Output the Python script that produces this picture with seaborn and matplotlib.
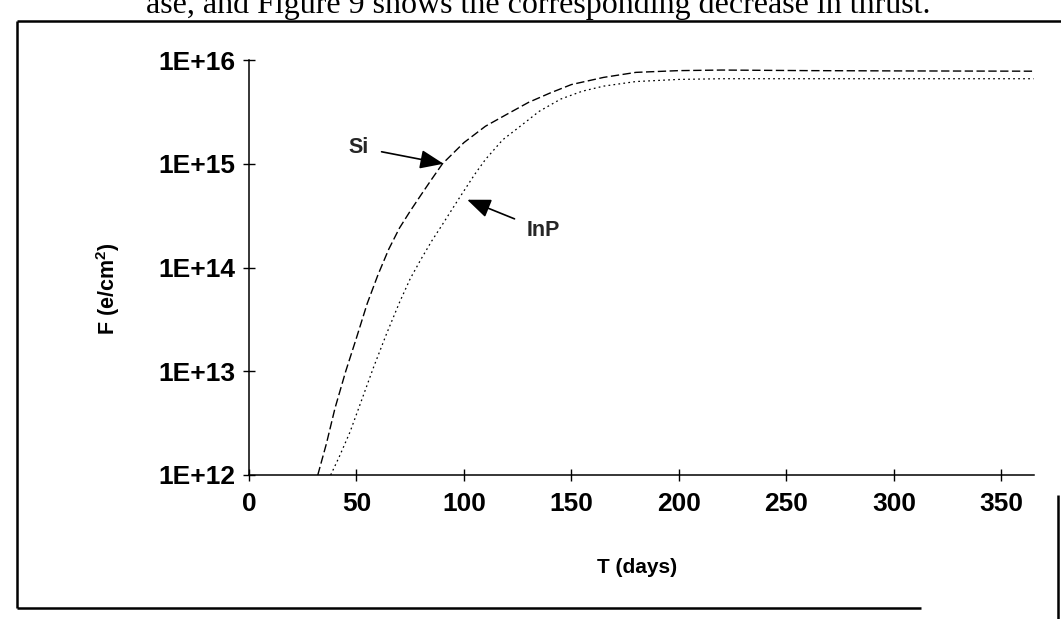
import matplotlib
matplotlib.use("Agg")
import matplotlib.pyplot as plt
from matplotlib.lines import Line2D
from matplotlib.ticker import NullLocator
import seaborn as sns

# Fluence F (e/cm^2) versus time T (days) for the two cell materials
si_days = [32, 36, 40, 45, 50, 55, 60, 65, 70, 75, 80, 85, 90, 100, 110,
           120, 130, 140, 150, 165, 180, 200, 220, 260, 300, 365]
si_flux = [1.0e12, 2.0e12, 4.4e12, 1.0e13, 2.1e13, 4.5e13, 8.5e13, 1.5e14,
           2.4e14, 3.5e14, 5.0e14, 7.1e14, 1.0e15, 1.6e15, 2.3e15, 3.0e15,
           3.9e15, 4.8e15, 5.8e15, 6.8e15, 7.6e15, 7.9e15, 8.0e15, 7.9e15,
           7.85e15, 7.8e15]

inp_days = [38, 42, 47, 52, 58, 64, 70, 75, 80, 85, 90, 97, 105, 110, 118,
            125, 135, 145, 155, 165, 180, 200, 220, 260, 300, 365]
inp_flux = [1.0e12, 1.5e12, 2.6e12, 5.0e12, 1.1e13, 2.3e13, 4.6e13, 7.8e13,
            1.2e14, 1.8e14, 2.6e14, 4.4e14, 7.9e14, 1.1e15, 1.7e15, 2.2e15,
            3.2e15, 4.2e15, 5.0e15, 5.6e15, 6.2e15, 6.5e15, 6.6e15, 6.6e15,
            6.6e15, 6.6e15]

x_ticks = [0, 50, 100, 150, 200, 250, 300, 350]
y_ticks = [1e12, 1e13, 1e14, 1e15, 1e16]
y_tick_labels = ["1E+12", "1E+13", "1E+14", "1E+15", "1E+16"]

# Labelled points the arrows refer to
si_label_xy = (51, 1.44e15)
si_arrow_xy = (90.5, 1.0e15)
inp_label_xy = (137, 2.27e14)
inp_arrow_xy = (101.5, 4.5e14)

header_text = "ase, and Figure 9 shows the corresponding decrease in thrust."

sns.set_theme(style="white")
plt.rcParams["font.family"] = ["Liberation Sans", "DejaVu Sans"]
plt.rcParams["mathtext.fontset"] = "custom"
plt.rcParams["mathtext.rm"] = "Liberation Sans:bold"
plt.rcParams["mathtext.bf"] = "Liberation Sans:bold"

W, H = 1061, 619
fig = plt.figure(figsize=(W / 100, H / 100), dpi=100)
fig.patch.set_facecolor("white")


def fx(px):
    return px / W


def fy(py):
    return 1 - py / H


ax = fig.add_axes([fx(249), fy(475), (1033.6 - 249) / W, (475 - 60) / H])
ax.set_facecolor("white")
ax.set_yscale("log")

sns.lineplot(x=si_days, y=si_flux, ax=ax, color="black", lw=1.0,
             linestyle=(0, (6, 2.5)))
sns.lineplot(x=inp_days, y=inp_flux, ax=ax, color="black", lw=0.9,
             linestyle=(0, (1.4, 2.6)))

ax.set_xlim(0, 365)
ax.set_ylim(1e12, 1e16)
ax.set_xticks(x_ticks)
ax.set_xticklabels([str(t) for t in x_ticks])
ax.set_yticks(y_ticks)
ax.set_yticklabels(y_tick_labels)
ax.yaxis.set_minor_locator(NullLocator())
ax.xaxis.set_minor_locator(NullLocator())

ax.tick_params(axis="both", which="major", direction="inout", length=8,
               width=1.0, colors="black", labelsize=19,
               bottom=True, left=True, top=False, right=False)
ax.tick_params(axis="y", pad=5.6)
ax.tick_params(axis="x", pad=8)
for lab in ax.get_xticklabels() + ax.get_yticklabels():
    lab.set_fontweight("bold")

for side in ("top", "right"):
    ax.spines[side].set_visible(False)
for side in ("left", "bottom"):
    ax.spines[side].set_color("black")
    ax.spines[side].set_linewidth(1.1)
ax.grid(False)

ax.set_xlabel("T (days)", fontsize=15, fontweight="bold", color="black")
ax.xaxis.set_label_coords(0.495, -0.223)
ax.xaxis.label.set_va("center")
ax.set_ylabel(r"F (e/cm$^{\mathbf{2}}$)", fontsize=15.5, fontweight="bold",
              color="black")
ax.yaxis.set_label_coords(-0.18, 0.448)
ax.yaxis.label.set_va("center")

arrow_style = dict(arrowstyle="-|>,head_length=0.72,head_width=0.29",
                   mutation_scale=20, color="black", lw=1.2,
                   shrinkA=7, shrinkB=0)
ax.annotate("Si", xy=si_arrow_xy, xytext=si_label_xy, fontsize=15.5,
            fontweight="bold", ha="center", va="center",
            arrowprops=arrow_style)
ax.annotate("InP", xy=inp_arrow_xy, xytext=inp_label_xy, fontsize=15.5,
            fontweight="bold", ha="center", va="center",
            arrowprops=arrow_style)

# Page text running above the figure frame
fig.text(fx(930), fy(13), header_text, family="Liberation Serif",
         fontsize=23, ha="right", va="baseline", color="black")

# Figure frame
frame_kw = dict(transform=fig.transFigure, color="black", lw=1.8,
                solid_capstyle="butt")
fig.add_artist(Line2D([fx(17), fx(1061)], [fy(21), fy(21)], **frame_kw))
fig.add_artist(Line2D([fx(17), fx(17)], [fy(21), fy(608)], **frame_kw))
fig.add_artist(Line2D([fx(17), fx(921)], [fy(608), fy(608)], **frame_kw))
fig.add_artist(Line2D([fx(1058), fx(1058)], [fy(495), fy(619)], **frame_kw))

fig.savefig("out.png", dpi=100, facecolor="white")
